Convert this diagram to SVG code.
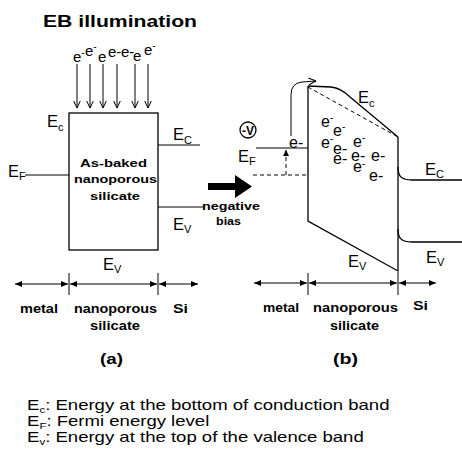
<svg xmlns="http://www.w3.org/2000/svg" width="462" height="459" viewBox="0 0 462 459">
<style>
.t{font-family:"Liberation Sans",Arial,sans-serif;fill:#000}
.b{font-weight:bold}
.ln{stroke:#000;stroke-width:1.3;fill:none}
.thin{stroke:#000;stroke-width:1;fill:none}
.dash{stroke:#000;stroke-width:1;fill:none;stroke-dasharray:4 3}
.E{font-size:16.5px}
.sub{font-size:11px}
.el{font-size:15px}
.elb{font-size:16px}
.sup{font-size:10px}
.ax{font-size:12px;font-weight:bold}
.leg{font-size:14.5px}
</style>
<defs>
<marker id="ah" viewBox="0 0 7 6" refX="7" refY="3" markerWidth="7" markerHeight="6" markerUnits="userSpaceOnUse" orient="auto-start-reverse"><path d="M0,0 L7,3 L0,6 z" fill="#000"/></marker>
<marker id="open" viewBox="0 0 8 8" refX="7.5" refY="4" markerWidth="8" markerHeight="8" markerUnits="userSpaceOnUse" orient="auto"><path d="M0,0.5 L7.5,4 L0,7.5" fill="none" stroke="#000" stroke-width="1"/></marker>
<marker id="up" viewBox="0 0 6 6" refX="6" refY="3" markerWidth="6" markerHeight="6" markerUnits="userSpaceOnUse" orient="auto"><path d="M0,0 L6,3 L0,6 z" fill="#000"/></marker>
</defs>

<text class="t b" x="43" y="27" font-size="17" textLength="154" lengthAdjust="spacingAndGlyphs">EB illumination</text>

<g id="panel-a">
  <rect x="69" y="113" width="89" height="137" class="ln" stroke-width="1.5"/>
  <text class="t b" x="113.5" y="167" font-size="11.5" text-anchor="middle" textLength="67" lengthAdjust="spacingAndGlyphs">As-baked</text>
  <text class="t b" x="115.5" y="183" font-size="11.5" text-anchor="middle" textLength="83" lengthAdjust="spacingAndGlyphs">nanoporous</text>
  <text class="t b" x="115" y="200" font-size="11.5" text-anchor="middle" textLength="50" lengthAdjust="spacingAndGlyphs">silicate</text>
  <line x1="25" y1="175" x2="69" y2="175" class="thin"/>
  <line x1="158" y1="145" x2="200" y2="145" class="thin"/>
  <line x1="158" y1="207" x2="203" y2="207" class="thin"/>
  <text class="t E" x="47" y="127">E<tspan class="sub" dy="4">c</tspan></text>
  <text class="t E" x="8" y="177">E<tspan class="sub" dy="3">F</tspan></text>
  <text class="t E" x="173" y="140">E<tspan class="sub" dy="4">C</tspan></text>
  <text class="t E" x="173" y="230">E<tspan class="sub" dy="3">V</tspan></text>
  <text class="t E" x="103" y="270">E<tspan class="sub" dy="3">V</tspan></text>
  <g class="t el">
    <text x="73" y="62">e<tspan class="sup" dy="-6">-</tspan></text>
    <text x="85" y="56">e<tspan class="sup" dy="-6">-</tspan></text>
    <text x="98" y="62">e</text>
    <text x="108" y="57">e-</text>
    <text x="121" y="57">e-</text>
    <text x="133" y="61">e</text>
    <text x="144" y="55">e<tspan class="sup" dy="-6">-</tspan></text>
  </g>
  <text class="t ax" x="20" y="313" textLength="38" lengthAdjust="spacingAndGlyphs">metal</text>
  <text class="t ax" x="74" y="313" textLength="83" lengthAdjust="spacingAndGlyphs">nanoporous</text>
  <text class="t ax" x="90" y="330" textLength="50" lengthAdjust="spacingAndGlyphs">silicate</text>
  <text class="t ax" x="173" y="313" textLength="15" lengthAdjust="spacingAndGlyphs">Si</text>
  <text class="t b" x="100" y="364" font-size="14.5" textLength="23" lengthAdjust="spacingAndGlyphs">(a)</text>
</g>

<g id="bias-arrow">
  <polygon points="208,183 235,183 235,175 252,186.5 235,198 235,190 208,190" fill="#000"/>
  <text class="t b" x="202" y="210" font-size="11.5" textLength="58" lengthAdjust="spacingAndGlyphs">negative</text>
  <text class="t b" x="216" y="225" font-size="11.5" textLength="25" lengthAdjust="spacingAndGlyphs">bias</text>
</g>

<g id="panel-b">
  <path d="M308,86 L308,221 L398,271 L398,137" class="ln"/>
  <line x1="308" y1="87" x2="398" y2="137" class="dash" stroke-dasharray="3 2"/>
  <path d="M308,86 L331,87 Q341,88 350,97 L398,137" class="ln"/>
  <path d="M398,167 C398,176 401,180 412,180 L462,180" class="ln" stroke-width="1.6"/>
  <path d="M398,229 C398,238 401,242 412,242 L462,242" class="ln" stroke-width="1.6"/>
  <line x1="256" y1="148" x2="308" y2="148" class="thin"/>
  <line x1="253" y1="175" x2="308" y2="175" class="dash"/>
  <circle cx="248" cy="130" r="8" class="ln"/>
  <text class="t b" x="248" y="135" font-size="12" text-anchor="middle">-V</text>
  <text class="t E" x="238" y="162">E<tspan class="sub" dy="3">F</tspan></text>
  <text class="t elb" x="289" y="148">e-</text>
  <text class="t E" x="358" y="103">E<tspan class="sub" dy="4">c</tspan></text>
  <text class="t E" x="425" y="175">E<tspan class="sub" dy="3">C</tspan></text>
  <text class="t E" x="426" y="263">E<tspan class="sub" dy="3">V</tspan></text>
  <text class="t E" x="348" y="267">E<tspan class="sub" dy="3">V</tspan></text>
  <g class="t elb">
    <text x="321" y="127">e<tspan class="sup" dy="-6">-</tspan></text>
    <text x="333" y="136">e<tspan class="sup" dy="-6">-</tspan></text>
    <text x="321" y="148">e<tspan class="sup" dy="-6">-</tspan></text>
    <text x="333" y="154">e-</text>
    <text x="353" y="147">e<tspan class="sup" dy="-6">-</tspan></text>
    <text x="333" y="164">e-</text>
    <text x="351" y="161">e-</text>
    <text x="371" y="161">e-</text>
    <text x="353" y="172">e<tspan class="sup" dy="-5">-</tspan></text>
    <text x="369" y="181">e-</text>
  </g>
  <text class="t ax" x="263" y="312" textLength="36" lengthAdjust="spacingAndGlyphs">metal</text>
  <text class="t ax" x="313" y="312" textLength="85" lengthAdjust="spacingAndGlyphs">nanoporous</text>
  <text class="t ax" x="330" y="330" textLength="49" lengthAdjust="spacingAndGlyphs">silicate</text>
  <text class="t ax" x="413" y="310" textLength="15" lengthAdjust="spacingAndGlyphs">Si</text>
  <text class="t b" x="333" y="364" font-size="14.5" textLength="25" lengthAdjust="spacingAndGlyphs">(b)</text>
</g>

<g id="connectors">
  <line x1="77" y1="64" x2="77" y2="108" class="thin" marker-end="url(#open)"/>
  <line x1="90" y1="64" x2="90" y2="108" class="thin" marker-end="url(#open)"/>
  <line x1="103" y1="64" x2="103" y2="108" class="thin" marker-end="url(#open)"/>
  <line x1="117" y1="64" x2="117" y2="108" class="thin" marker-end="url(#open)"/>
  <line x1="135" y1="64" x2="135" y2="108" class="thin" marker-end="url(#open)"/>
  <line x1="148" y1="64" x2="148" y2="108" class="thin" marker-end="url(#open)"/>
  <path d="M291,136 L291,95 Q291,83 302,82 L316,81" class="thin" marker-end="url(#open)"/>
  <line x1="286" y1="175" x2="286" y2="150" class="dash" stroke-dasharray="3 2" marker-end="url(#up)"/>
  <line x1="15" y1="284" x2="68" y2="284" class="thin" marker-start="url(#ah)" marker-end="url(#ah)"/>
  <line x1="70" y1="284" x2="157" y2="284" class="thin" marker-start="url(#ah)" marker-end="url(#ah)"/>
  <line x1="159" y1="284" x2="198" y2="284" class="thin" marker-start="url(#ah)" marker-end="url(#ah)"/>
  <line x1="69" y1="273" x2="69" y2="295" class="thin"/>
  <line x1="158" y1="273" x2="158" y2="295" class="thin"/>
  <line x1="254" y1="283" x2="307" y2="283" class="thin" marker-start="url(#ah)" marker-end="url(#ah)"/>
  <line x1="309" y1="283" x2="397" y2="283" class="thin" marker-start="url(#ah)" marker-end="url(#ah)"/>
  <line x1="399" y1="283" x2="436" y2="283" class="thin" marker-start="url(#ah)" marker-end="url(#ah)"/>
  <line x1="308" y1="273" x2="308" y2="295" class="thin"/>
  <line x1="398" y1="272" x2="398" y2="295" class="thin"/>
</g>

<g id="legend" class="t leg">
  <text transform="translate(27,410) scale(1.28,1)">E<tspan font-size="9" dy="3">c</tspan><tspan dy="-3">: Energy at the bottom of conduction band</tspan></text>
  <text transform="translate(27,426) scale(1.28,1)">E<tspan font-size="9" dy="3">F</tspan><tspan dy="-3">: Fermi energy level</tspan></text>
  <text transform="translate(27,442) scale(1.28,1)">E<tspan font-size="9" dy="3">v</tspan><tspan dy="-3">: Energy at the top of the valence band</tspan></text>
</g>
</svg>
